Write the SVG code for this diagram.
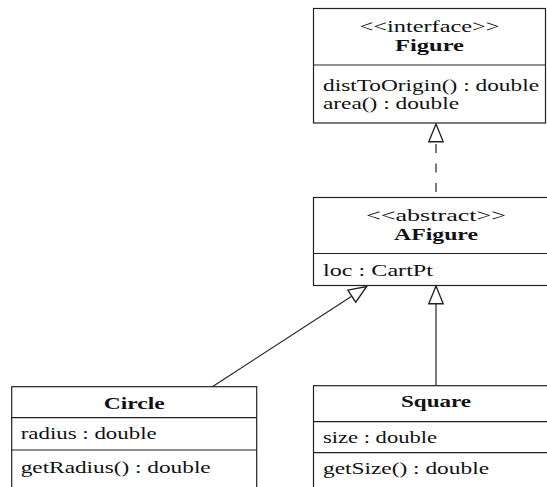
<svg xmlns="http://www.w3.org/2000/svg" width="547" height="487" viewBox="0 0 547 487">
<style>
.box{fill:#fff;stroke:#222;stroke-width:1.2}
.div{stroke:#222;stroke-width:1.2}
text{font-family:'Liberation Serif','DejaVu Serif',serif;font-size:16px;fill:#111}
.c{text-anchor:middle}
.b{font-weight:bold}
.conn{stroke:#222;stroke-width:1.2;fill:none}
</style>
<defs>
<marker id="tri" markerUnits="userSpaceOnUse" markerWidth="20" markerHeight="20" viewBox="-1 -8 18 16" refX="16" refY="0" orient="auto">
<path d="M0,-6.5 L16,0 L0,6.5 Z" fill="#fff" stroke="#222" stroke-width="1.2"/>
</marker>
</defs>
<rect width="547" height="487" fill="#fff"/>
<g id="connectors">
<line class="conn" x1="436" y1="192" x2="436" y2="139.5" stroke-dasharray="9 10.5"/>
<line class="conn" x1="436" y1="197.5" x2="436" y2="124" marker-end="url(#tri)" stroke-dasharray="0.01 100"/>
<line class="conn" x1="212.3" y1="386.7" x2="366.7" y2="286.5" marker-end="url(#tri)"/>
<line class="conn" x1="436" y1="385.7" x2="436" y2="286" marker-end="url(#tri)"/>
</g>
<g id="Figure" font-family="Liberation Serif, DejaVu Serif, serif">
<rect class="box" x="313.5" y="8.5" width="232" height="114.5"/>
<line class="div" x1="313.5" y1="65" x2="545.5" y2="65"/>
<text class="c" x="429.5" y="31.7" textLength="140" lengthAdjust="spacingAndGlyphs">&lt;&lt;interface&gt;&gt;</text>
<text class="c b" x="429.5" y="50.5" textLength="69" lengthAdjust="spacingAndGlyphs">Figure</text>
<text x="323" y="91" textLength="216" lengthAdjust="spacingAndGlyphs">distToOrigin() : double</text>
<text x="323" y="108.5" textLength="136" lengthAdjust="spacingAndGlyphs">area() : double</text>
</g>
<g id="AFigure">
<rect class="box" x="313.5" y="197.5" width="245" height="88"/>
<line class="div" x1="313.5" y1="253.5" x2="558.5" y2="253.5"/>
<text class="c" x="436" y="221" textLength="140" lengthAdjust="spacingAndGlyphs">&lt;&lt;abstract&gt;&gt;</text>
<text class="c b" x="436" y="240" textLength="84" lengthAdjust="spacingAndGlyphs">AFigure</text>
<text x="323" y="276" textLength="110" lengthAdjust="spacingAndGlyphs">loc : CartPt</text>
</g>
<g id="Circle">
<rect class="box" x="11.7" y="386.7" width="245" height="110"/>
<line class="div" x1="11.7" y1="417.7" x2="256.7" y2="417.7"/>
<line class="div" x1="11.7" y1="450" x2="256.7" y2="450"/>
<text class="c b" x="134.2" y="409" textLength="61" lengthAdjust="spacingAndGlyphs">Circle</text>
<text x="20.7" y="439.3" textLength="136" lengthAdjust="spacingAndGlyphs">radius : double</text>
<text x="20.7" y="472.5" textLength="190" lengthAdjust="spacingAndGlyphs">getRadius() : double</text>
</g>
<g id="Square">
<rect class="box" x="313.5" y="385.7" width="245" height="110"/>
<line class="div" x1="313.5" y1="421.7" x2="558.5" y2="421.7"/>
<line class="div" x1="313.5" y1="452.7" x2="558.5" y2="452.7"/>
<text class="c b" x="436" y="407" textLength="70" lengthAdjust="spacingAndGlyphs">Square</text>
<text x="323" y="442.7" textLength="114" lengthAdjust="spacingAndGlyphs">size : double</text>
<text x="323" y="473.5" textLength="166" lengthAdjust="spacingAndGlyphs">getSize() : double</text>
</g>
</svg>
